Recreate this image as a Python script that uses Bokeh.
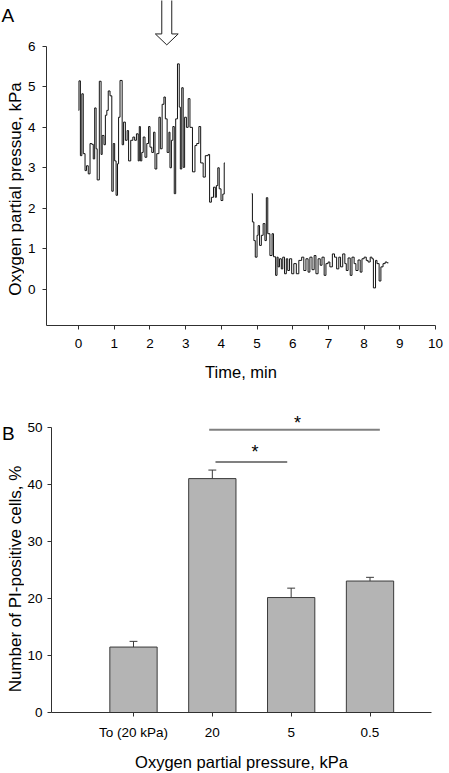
import numpy as np
from bokeh.plotting import figure
from bokeh.layouts import column, row
from bokeh.models import FixedTicker, Range1d
from bokeh.core.properties import value
from bokeh.embed import file_html
from bokeh.resources import INLINE

FONT = "Liberation Sans"

# ---------------- Panel A data: oxygen partial pressure vs time -------------
time_seg1 = [0.00, 0.01, 0.05, 0.09, 0.13, 0.18, 0.22, 0.27, 0.32, 0.37, 0.41,
             0.45, 0.49, 0.52, 0.58, 0.63, 0.66, 0.71, 0.75, 0.79, 0.83, 0.88,
             0.93, 0.97, 1.01, 1.05, 1.09, 1.12, 1.16, 1.22, 1.26, 1.31, 1.36,
             1.40, 1.46, 1.52, 1.57, 1.62, 1.67, 1.70, 1.73, 1.77, 1.81, 1.86,
             1.91, 1.96, 2.00, 2.05, 2.10, 2.14, 2.19, 2.25, 2.29, 2.34, 2.39,
             2.43, 2.48, 2.53, 2.56, 2.60, 2.64, 2.68, 2.72, 2.77, 2.82, 2.85,
             2.89, 2.93, 2.97, 3.02, 3.07, 3.12, 3.19, 3.26, 3.31, 3.37, 3.42,
             3.49, 3.55, 3.63, 3.67, 3.72, 3.78, 3.83, 3.86, 3.90, 3.94, 3.99,
             4.04, 4.08, 4.10]
po2_seg1 = [4.42, 5.15, 3.30, 4.83, 3.35, 2.93, 3.05, 2.85, 3.60, 3.58, 3.22,
            4.48, 3.47, 2.70, 5.14, 3.33, 3.80, 3.57, 4.30, 4.42, 4.90, 4.78,
            2.42, 3.60, 3.17, 2.32, 3.10, 4.25, 5.16, 3.57, 4.13, 3.68, 3.92,
            3.17, 3.68, 3.76, 3.68, 3.84, 3.17, 4.02, 3.17, 3.38, 3.76, 3.26,
            3.60, 4.02, 3.51, 3.38, 3.88, 2.97, 3.35, 4.25, 3.47, 4.57, 4.75,
            4.21, 3.38, 3.88, 3.00, 3.68, 4.02, 2.36, 4.21, 5.57, 4.50, 2.97,
            4.98, 3.01, 4.25, 4.00, 4.71, 4.00, 2.90, 3.55, 3.60, 4.02, 3.12,
            2.77, 3.30, 3.33, 2.15, 2.27, 2.52, 2.27, 2.56, 3.00, 2.48, 2.19,
            2.35, 3.12, 3.12]
time_seg2 = [4.85, 4.87, 4.91, 4.95, 5.00, 5.03, 5.07, 5.12, 5.17, 5.22, 5.26,
             5.30, 5.36, 5.42, 5.46, 5.52, 5.56, 5.59, 5.63, 5.68, 5.72, 5.77,
             5.82, 5.86, 5.91, 5.97, 6.03, 6.10, 6.17, 6.25, 6.31, 6.37, 6.43,
             6.48, 6.54, 6.60, 6.65, 6.71, 6.77, 6.82, 6.88, 6.93, 6.99, 7.04,
             7.11, 7.17, 7.23, 7.29, 7.34, 7.40, 7.46, 7.50, 7.55, 7.61, 7.66,
             7.72, 7.77, 7.83, 7.89, 7.94, 8.00, 8.06, 8.11, 8.17, 8.22, 8.26,
             8.32, 8.36, 8.42, 8.47, 8.53, 8.59, 8.64, 8.68]
po2_seg2 = [2.36, 1.66, 1.20, 0.79, 1.33, 1.57, 1.08, 1.33, 1.62, 1.20, 2.26,
            1.37, 0.83, 1.37, 0.80, 0.34, 0.79, 0.55, 0.75, 0.50, 0.79, 0.38,
            0.75, 0.46, 0.75, 0.38, 0.63, 0.38, 0.71, 0.79, 0.46, 0.75, 0.42,
            0.79, 0.48, 0.83, 0.38, 0.75, 0.59, 0.79, 0.34, 0.63, 0.67, 0.55,
            0.87, 0.79, 0.50, 0.79, 0.55, 0.87, 0.63, 0.46, 0.77, 0.34, 0.79,
            0.63, 0.46, 0.72, 0.42, 0.75, 0.79, 0.71, 0.67, 0.79, 0.75, 0.03,
            0.71, 0.63, 0.20, 0.55, 0.63, 0.67, 0.65, 0.65]
time_ticks = [0, 1, 2, 3, 4, 5, 6, 7, 8, 9, 10]
po2_ticks = [0, 1, 2, 3, 4, 5, 6]
arrow_time = 2.47      # min, moment marked by the arrow
arrow_tip = 6.04       # kPa, tip of the arrow
label_a_x = "Time, min"
label_a_y = "Oxygen partial pressue, kPa"

# ---------------- Panel B data: PI-positive cells ---------------------------
categories = ["To (20 kPa)", "20", "5", "0.5"]
bar_values = [11.5, 41.1, 20.2, 23.1]
bar_errors = [1.0, 1.5, 1.65, 0.65]
sig_x0 = [1.96, 2.04]
sig_x1 = [4.125, 2.95]
sig_y = [49.7, 44.0]
star_x = [3.08, 2.54]
star_y = [50.9, 45.8]
pi_ticks = [0, 10, 20, 30, 40, 50]
label_b_x = "Oxygen partial pressure, kPa"
label_b_y = "Number of PI-positive cells, %"

AXIS_COLOR = "#303030"
TOTAL_H = 773
SIDE_W = 24
MAIN_W = 449 - SIDE_W


def style_axes(p, tick_px="13.5px", label_px="16.5px"):
    p.grid.visible = False
    p.outline_line_color = None
    p.background_fill_color = "white"
    p.border_fill_color = "white"
    for ax in (p.xaxis, p.yaxis):
        ax.axis_line_color = AXIS_COLOR
        ax.axis_line_width = 1
        ax.major_tick_line_color = AXIS_COLOR
        ax.major_tick_out = 4
        ax.major_tick_in = 0
        ax.minor_tick_line_color = None
        ax.major_label_text_font = FONT
        ax.major_label_text_font_size = tick_px
        ax.major_label_text_color = "black"
        ax.axis_label_text_font = FONT
        ax.axis_label_text_font_size = label_px
        ax.axis_label_text_font_style = "normal"
        ax.axis_label_text_color = "black"


def no_frame_align(p):
    try:
        p.frame_align = False
    except Exception:
        pass


# ---------------- Side strip: panel letters and vertical axis titles --------
side = figure(width=SIDE_W, height=TOTAL_H,
              x_range=Range1d(0, SIDE_W), y_range=Range1d(0, TOTAL_H),
              output_backend="svg", toolbar_location=None,
              min_border_left=0, min_border_right=0,
              min_border_top=0, min_border_bottom=0)
side.axis.visible = False
side.grid.visible = False
side.outline_line_color = None
no_frame_align(side)
side.text(x=[1, 1.5], y=[TOTAL_H - 15, TOTAL_H - 433], text=["A", "B"],
          text_align="left", text_baseline="alphabetic",
          text_font=value(FONT), text_font_size="19px", text_color="black")
side.text(x=[14.5, 14.5], y=[TOTAL_H - 188.5, TOTAL_H - 578.5],
          text=[label_a_y, label_b_y], angle=np.pi / 2,
          text_align="center", text_baseline="alphabetic",
          text_font=value(FONT), text_font_size="17px", text_color="black")

# ---------------- Panel A figure ---------------------------------------------
pa = figure(width=MAIN_W, height=383,
            x_range=Range1d(-0.9, 10), y_range=Range1d(-0.9, 7.137),
            output_backend="svg", toolbar_location=None,
            min_border_left=46 - SIDE_W, min_border_right=14,
            min_border_top=0, min_border_bottom=58)
no_frame_align(pa)
style_axes(pa)
pa.xaxis.ticker = FixedTicker(ticks=time_ticks)
pa.yaxis.ticker = FixedTicker(ticks=po2_ticks)
pa.yaxis.bounds = (-0.9, 6)
pa.xaxis.axis_label = label_a_x
pa.xaxis.major_label_standoff = 9
pa.xaxis.axis_label_standoff = 12
pa.yaxis.major_label_standoff = 7

pa.step(time_seg1, po2_seg1, mode="after", line_color="#111111", line_width=1)
pa.step(time_seg2, po2_seg2, mode="after", line_color="#111111", line_width=1)

shaft_half, head_half, head_len = 0.14, 0.32, 0.27
ax_ = [arrow_time - shaft_half, arrow_time + shaft_half, arrow_time + shaft_half,
       arrow_time + head_half, arrow_time, arrow_time - head_half,
       arrow_time - shaft_half]
ay_ = [7.4, 7.4, arrow_tip + head_len, arrow_tip + head_len, arrow_tip,
       arrow_tip + head_len, arrow_tip + head_len]
pa.patch(ax_, ay_, fill_color="white", line_color="#202020", line_width=1)

# ---------------- Panel B figure ---------------------------------------------
cat_x = [1, 2, 3, 4]
pb = figure(width=MAIN_W, height=TOTAL_H - 383,
            x_range=Range1d(-0.04, 4.78), y_range=Range1d(0, 55),
            output_backend="svg", toolbar_location=None,
            min_border_left=51 - SIDE_W, min_border_right=18,
            min_border_top=16, min_border_bottom=TOTAL_H - 383 - 16 - 316)
no_frame_align(pb)
style_axes(pb)
pb.xaxis.ticker = FixedTicker(ticks=cat_x)
pb.xaxis.major_label_overrides = {x: c for x, c in zip(cat_x, categories)}
pb.yaxis.ticker = FixedTicker(ticks=pi_ticks)
pb.yaxis.bounds = (0, 50)
pb.xaxis.axis_label = label_b_x
pb.xaxis.major_label_standoff = 8
pb.xaxis.axis_label_standoff = 10
pb.yaxis.major_label_standoff = 5

pb.vbar(x=cat_x, top=bar_values, width=0.6, bottom=0,
        fill_color="#b4b4b4", line_color="#3a3a3a", line_width=1)

err_top = [v + e for v, e in zip(bar_values, bar_errors)]
pb.segment(x0=cat_x, y0=bar_values, x1=cat_x, y1=err_top,
           line_color="#3a3a3a", line_width=1)
cap = 0.05
pb.segment(x0=[x - cap for x in cat_x], y0=err_top,
           x1=[x + cap for x in cat_x], y1=err_top,
           line_color="#3a3a3a", line_width=1)

pb.segment(x0=sig_x0, y0=sig_y, x1=sig_x1, y1=sig_y,
           line_color="#808080", line_width=2)
pb.text(x=star_x, y=star_y, text=["*", "*"], text_align="center",
        text_baseline="alphabetic", text_font=value(FONT),
        text_font_size="18px", text_color="black")

layout = row(side, column(pa, pb, spacing=0), spacing=0)
open("out.html", "w").write(file_html(layout, INLINE))
